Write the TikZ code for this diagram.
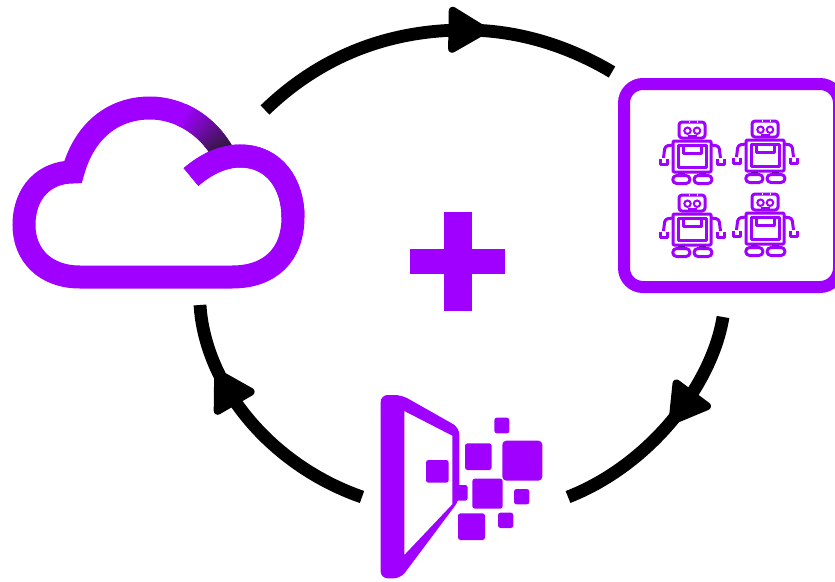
\documentclass[tikz,border=0pt]{standalone}
\usetikzlibrary{decorations.markings}
\definecolor{vio}{HTML}{A000FF}
\definecolor{viodark}{HTML}{6A00A8}
\definecolor{cloudend}{HTML}{2A1A30}
\tikzset{
  flowarc/.style={draw=black,line width=12.8pt,line cap=butt},
  headat/.style={postaction={decorate,decoration={markings,mark=at position #1 with {\filldraw[draw=black,fill=black,line join=round,line width=8pt] (-17,-19)--(-17,19)--(15,0)--cycle;}}}},
  cloudline/.style={draw=vio,line width=23pt,line cap=butt,line join=miter,miter limit=10},
  squarebit/.style={fill=vio,rounded corners=2.5pt},
  robotline/.style={draw=vio,line width=3pt,line join=round},
  robot/.pic={
    \draw[robotline,rounded corners=3pt] (-13,2) rectangle (13,18);
    \draw[white,line width=1pt] (-3,0.5)--(-3,2.5) (5,0.5)--(5,2.5);
    \draw[draw=vio,line width=2pt] (-4.5,10.7) circle (3.2) (5,10.7) circle (3.2);
    \draw[draw=vio,line width=1.3pt] (-4.5,16) -- (5,16);
    \draw[robotline,rounded corners=1pt] (-19,21) rectangle (19,52);
    \draw[robotline] (-14,25) rectangle (14.5,47.5);
    \draw[robotline] (-9,25)--(-9,33)--(9,33)--(9,25);
    \draw[robotline,rounded corners=3pt] (-19,25)--(-27,26)--(-28.5,38);
    \draw[robotline,rounded corners=3pt] (19,25)--(27,26)--(28.5,38);
    \draw[robotline] (-32,39)--(-32,44.5)--(-25,44.5)--(-25,39);
    \draw[robotline] (32,39)--(32,44.5)--(25,44.5)--(25,39);
    \draw[draw=viodark,line width=1.5pt] (-14,53.8)--(-7,53.8) (7,53.8)--(14,53.8);
    \draw[robotline,rounded corners=4pt] (-19.3,55.5) rectangle (-2,63.5);
    \draw[robotline,rounded corners=4pt] (2,55.5) rectangle (20,63.5);
  }
}
\begin{document}
\begin{tikzpicture}[x=1pt,y=-1pt]
\useasboundingbox (0,0) rectangle (835,581);
\clip (0,0) rectangle (835,581);

% connector ends
\coordinate (topstart) at (265,110);
\coordinate (topmid) at (465,30);
\coordinate (topend) at (612,72);
\coordinate (rightstart) at (723,317);
\coordinate (rightend) at (568,497);
\coordinate (leftstart) at (362,497);
\coordinate (leftend) at (200,305);

\draw[flowarc,headat=0.60] (topstart) .. controls (325,52) and (395,30) .. (topmid)
   .. controls (520,30) and (570,47) .. (topend);
\draw[flowarc,headat=0.41] (rightstart) .. controls (712,385) and (650,465) .. (rightend);
\draw[flowarc,headat=0.675] (leftstart) .. controls (270,465) and (205,385) .. (leftend);

% cloud
\coordinate (hook) at (191,177);
\coordinate (lobetop) at (240,156);
\coordinate (lobeside) at (293,217);
\coordinate (baseright) at (232,277);
\coordinate (baseleft) at (80,277);
\coordinate (cloudleft) at (24,225);
\coordinate (notch) at (73,172);
\coordinate (peak) at (150,108);
\coordinate (gapend) at (223,153);
\draw[cloudline] (hook) .. controls (205,165) and (222,156) .. (lobetop)
  .. controls (275,156) and (293,185) .. (lobeside)
  .. controls (293,255) and (270,277) .. (baseright)
  -- (baseleft)
  .. controls (45,277) and (24,255) .. (cloudleft)
  .. controls (24,192) and (45,172) .. (notch)
  .. controls (84,132) and (112,108) .. (peak)
  .. controls (180,108) and (208,126) .. (gapend);
\foreach \k in {0,...,23}{
  \pgfmathsetmacro{\ta}{0.36+\k*0.64/24}
  \pgfmathsetmacro{\tb}{\ta+0.64/24+0.004}
  \pgfmathsetmacro{\mixv}{100*(1-(\k/23)^1.15)}
  \draw[draw=vio!\mixv!cloudend,line width=23pt,line cap=butt]
    plot[domain=\ta:\tb,samples=3,variable=\t]
    ({(1-\t)^3*150+3*(1-\t)^2*\t*180+3*(1-\t)*\t^2*208+\t^3*223},
     {(1-\t)^3*108+3*(1-\t)^2*\t*108+3*(1-\t)*\t^2*126+\t^3*153});
}
\draw[cloudline] (hook) .. controls (205,165) and (222,156) .. (lobetop)
  .. controls (275,156) and (293,185) .. (lobeside);

% plus
\fill[vio] (444,212) rectangle (471.5,311);
\fill[vio] (410,249) rectangle (505,274);

% robots box
\draw[draw=vio,line width=12pt,rounded corners=19pt] (624,84) rectangle (839,287);
\pic at (692,120) {robot};
\pic at (765,119) {robot};
\pic at (692,193) {robot};
\pic at (765,192) {robot};

% door and squares
\begin{scope}[shift={(370,385)},x=0.33333pt,y=-0.33333pt]
\fill[vio,even odd rule,rounded corners=7pt]
  (32,300)--(32,30)--(95,30)--(268,128)--(268,345)--(92,580)--(32,580)--cycle
  [sharp corners] (103,78)--(247,152)--(247,358)--(103,510)--cycle;
\fill[squarebit] (168,225) rectangle (236,293);
\fill[squarebit] (285,175) rectangle (365,255);
\fill[squarebit,rounded corners=4pt] (397,167) rectangle (517,287);
\fill[squarebit] (373,98) rectangle (418,145);
\fill[squarebit] (307,281) rectangle (398,371);
\fill[squarebit] (432,312) rectangle (478,358);
\fill[squarebit] (384,383) rectangle (430,429);
\fill[squarebit] (264,385) rectangle (345,465);
\fill[squarebit] (250,300) rectangle (293,347);
\end{scope}
\end{tikzpicture}
\end{document}
